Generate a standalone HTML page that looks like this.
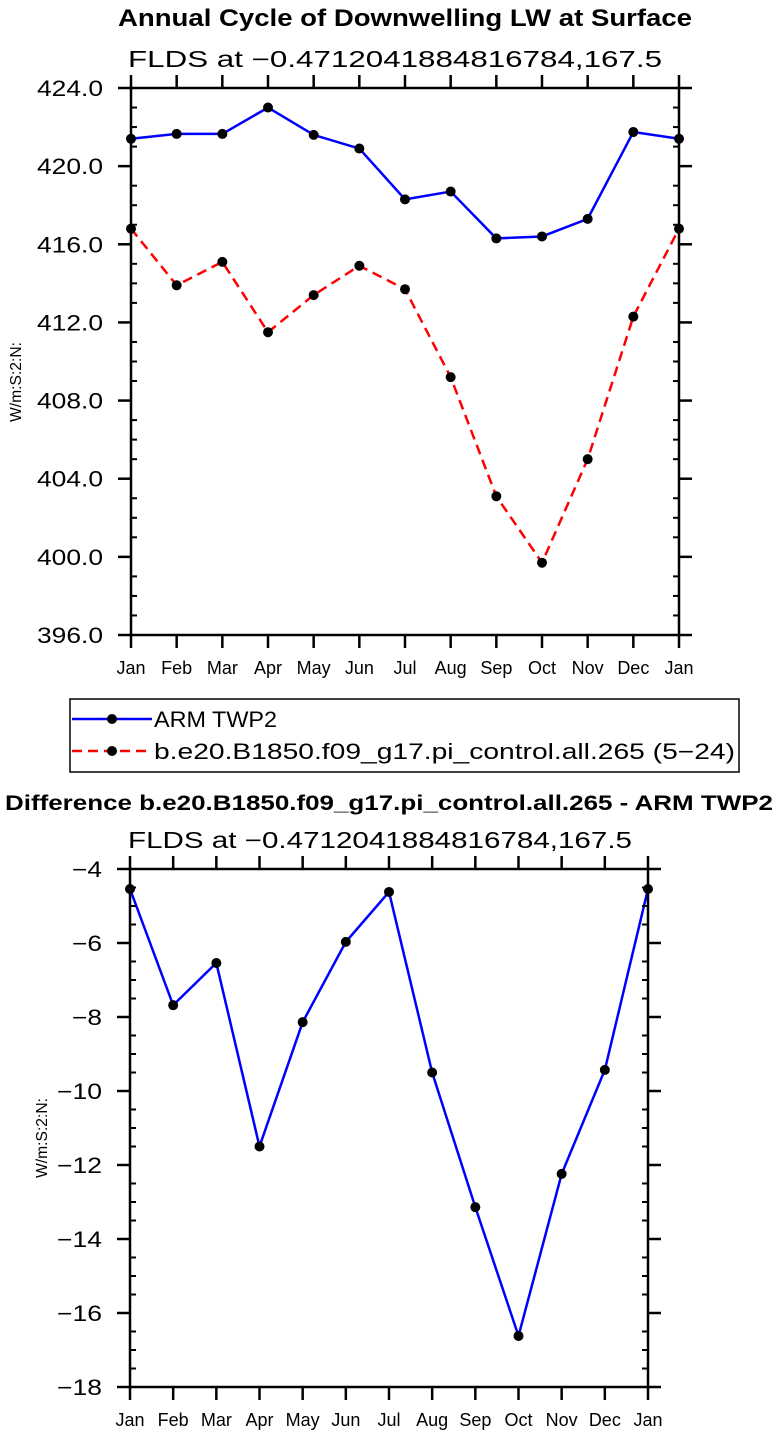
<!DOCTYPE html>
<html><head><meta charset="utf-8"><style>
html,body{margin:0;padding:0;background:#fff;}
svg{display:block;font-family:"Liberation Sans",sans-serif;}
</style></head><body>
<svg id="chart" width="778" height="1437" viewBox="0 0 778 1437" xmlns="http://www.w3.org/2000/svg">
<text x="118" y="26" font-size="24" font-weight="bold" textLength="574" lengthAdjust="spacingAndGlyphs">Annual Cycle of Downwelling LW at Surface</text>
<text x="128" y="67" font-size="23" textLength="534" lengthAdjust="spacingAndGlyphs">FLDS at −0.4712041884816784,167.5</text>
<text transform="translate(21,382) rotate(-90)" font-size="16" text-anchor="middle" textLength="80" lengthAdjust="spacingAndGlyphs">W/m:S:2:N:</text>
<g id="legend">
<rect x="70" y="699" width="669" height="73" fill="none" stroke="#000" stroke-width="1.5"/>
<line x1="72" y1="719" x2="152" y2="719" stroke="#0000ff" stroke-width="2.5"/>
<circle cx="112" cy="719" r="5" fill="#000"/>
<text x="154" y="727" font-size="22" textLength="123" lengthAdjust="spacingAndGlyphs">ARM TWP2</text>
<line x1="72" y1="751" x2="152" y2="751" stroke="#ff0000" stroke-width="2.5" stroke-dasharray="10,6"/>
<circle cx="112" cy="751" r="5" fill="#000"/>
<text x="154" y="759" font-size="22" textLength="581" lengthAdjust="spacingAndGlyphs">b.e20.B1850.f09_g17.pi_control.all.265 (5−24)</text>
</g>
<text x="5" y="810" font-size="21" font-weight="bold" textLength="768" lengthAdjust="spacingAndGlyphs">Difference b.e20.B1850.f09_g17.pi_control.all.265 - ARM TWP2</text>
<text x="128" y="848" font-size="23" textLength="504" lengthAdjust="spacingAndGlyphs">FLDS at −0.4712041884816784,167.5</text>
<text transform="translate(47,1138) rotate(-90)" font-size="16" text-anchor="middle" textLength="80" lengthAdjust="spacingAndGlyphs">W/m:S:2:N:</text>
</svg>
<script>
const months = ["Jan","Feb","Mar","Apr","May","Jun","Jul","Aug","Sep","Oct","Nov","Dec","Jan"];
const armValues = [421.4,421.65,421.65,423.0,421.6,420.9,418.3,418.7,416.3,416.4,417.3,421.75,421.4];
const modelValues = [416.8,413.9,415.1,411.5,413.4,414.9,413.7,409.2,403.1,399.7,405.0,412.3,416.8];
const diffValues = [-4.54,-7.68,-6.54,-11.5,-8.14,-5.97,-4.62,-9.5,-13.14,-16.62,-12.24,-9.43,-4.54];
const topTicks = [396,400,404,408,412,416,420,424];
const topTickLabels = ["396.0","400.0","404.0","408.0","412.0","416.0","420.0","424.0"];
const botTicks = [-18,-16,-14,-12,-10,-8,-6,-4];
const botTickLabels = ["−18","−16","−14","−12","−10","−8","−6","−4"];

const svg = document.getElementById('chart');
const NS = "http://www.w3.org/2000/svg";
function mk(tag, attrs, parent){
  const e = document.createElementNS(NS, tag);
  for (const k in attrs) e.setAttribute(k, attrs[k]);
  (parent||svg).appendChild(e);
  return e;
}
function panel(name, L, R, T, B, ymin, ymax, ticks, labels, minorStep, charW, series){
  const g = mk('g', {});
  
  
  const x = i => L + (R-L)*i/(months.length-1);
  const y = v => B - (B-T)*(v-ymin)/(ymax-ymin);
  series.forEach(s => {
    const pts = s.vals.map((v,i)=>x(i)+","+y(v)).join(" ");
    const pl = mk('polyline', {points:pts, fill:'none', stroke:s.color, 'stroke-width':2.5, 'stroke-dasharray':s.dash||'none'}, g);
    
    
    s.vals.forEach((v,i) => {
      const c = mk('circle', {cx:x(i), cy:y(v), r:5, fill:'#000'}, g);
      
      
    });
  });
  const fr = mk('rect', {x:L, y:T, width:R-L, height:B-T, fill:'none', stroke:'#000', 'stroke-width':2.5}, g);
  
  
  ticks.forEach((t,i) => {
    const yy = y(t);
    mk('line', {x1:L-13, y1:yy, x2:L, y2:yy, stroke:'#000', 'stroke-width':2.5}, g);
    mk('line', {x1:R, y1:yy, x2:R+13, y2:yy, stroke:'#000', 'stroke-width':2.5}, g);
    const lab = labels[i];
    const tx = mk('text', {x:L-28, y:yy+8, 'font-size':22, 'text-anchor':'end', textLength: lab.length*charW, lengthAdjust:'spacingAndGlyphs'}, g);
    tx.textContent = lab;
    
    
    if (i < ticks.length-1) {
      for (let m = t+minorStep; m < ticks[i+1]-1e-9; m += minorStep) {
        const my = y(m);
        mk('line', {x1:L, y1:my, x2:L+6, y2:my, stroke:'#000', 'stroke-width':2}, g);
        mk('line', {x1:R-6, y1:my, x2:R, y2:my, stroke:'#000', 'stroke-width':2}, g);
      }
    }
  });
  months.forEach((m,i) => {
    const xx = x(i);
    mk('line', {x1:xx, y1:B, x2:xx, y2:B+13, stroke:'#000', 'stroke-width':2.5}, g);
    mk('line', {x1:xx, y1:T-13, x2:xx, y2:T, stroke:'#000', 'stroke-width':2.5}, g);
    const tx = mk('text', {x:xx, y:B+39, 'font-size':18, 'text-anchor':'middle'}, g);
    tx.textContent = m;
    
    
  });
}
panel('top-chart', 131, 679, 88, 635, 396, 424, topTicks, topTickLabels, 1, 13.2,
  [{name:'arm-twp2', vals:armValues, color:'#0000ff'},
   {name:'model', vals:modelValues, color:'#ff0000', dash:'10,6'}]);
panel('difference-chart', 130, 648, 869, 1387, -18, -4, botTicks, botTickLabels, 0.5, 15,
  [{name:'difference', vals:diffValues, color:'#0000ff'}]);
</script>
</body></html>
